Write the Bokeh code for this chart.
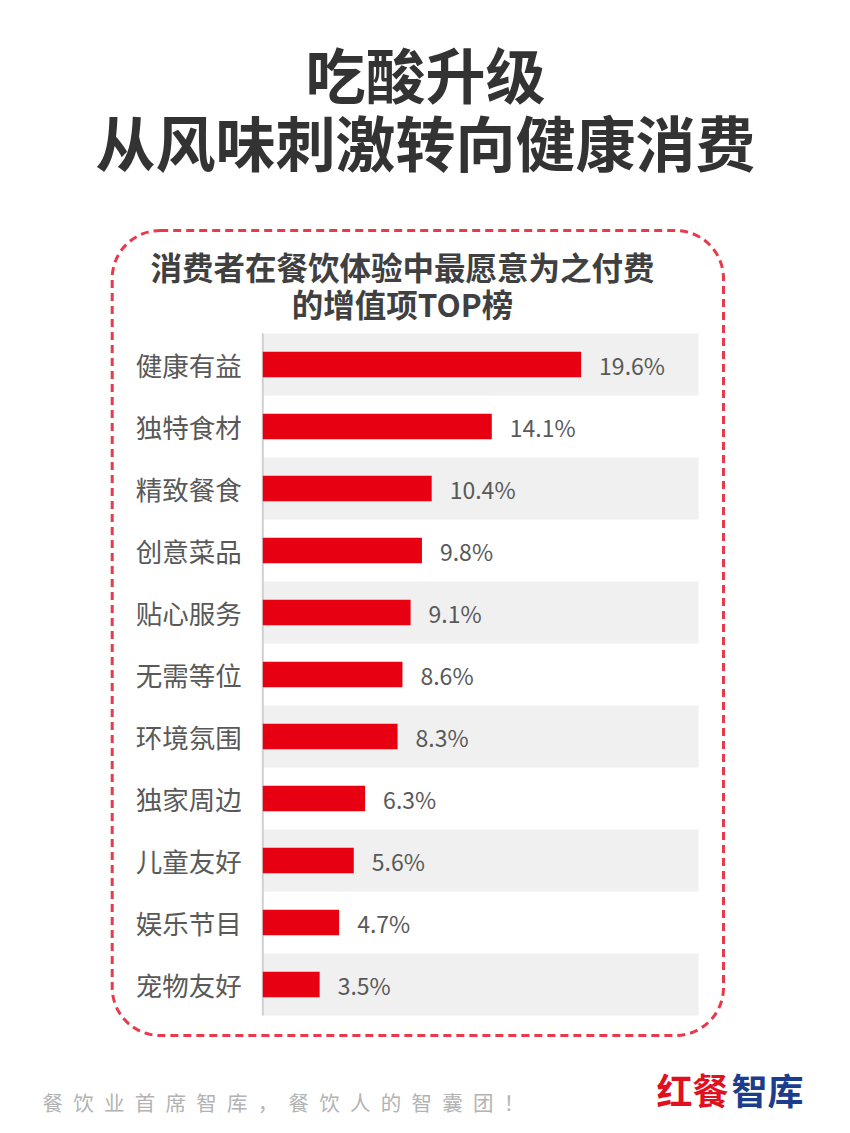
from bokeh.plotting import figure
from bokeh.models import Range1d
from bokeh.core.properties import value
from bokeh.embed import file_html
from bokeh.resources import INLINE

# ---------------- data ----------------
categories = ["健康有益", "独特食材", "精致餐食", "创意菜品", "贴心服务", "无需等位",
              "环境氛围", "独家周边", "儿童友好", "娱乐节目", "宠物友好"]
shares = [19.6, 14.1, 10.4, 9.8, 9.1, 8.6, 8.3, 6.3, 5.6, 4.7, 3.5]
value_labels = [f"{v:.1f}%" for v in shares]
title_lines = ["吃酸升级", "从风味刺激转向健康消费"]
subtitle_lines = ["消费者在餐饮体验中最愿意为之付费", "的增值项TOP榜"]
footer_text = "餐饮业首席智库，餐饮人的智囊团！"
logo_red = "红餐"
logo_blue = "智库"

# ---------------- layout (page pixels) ----------------
W, H = 834, 1117
M = 0                 # canvas origin in screenshot coordinates
ZERO_X = 262.3        # x of the 0 % line
PX_PER_PCT = 16.24    # pixels per percentage point
ROW0_Y = 364          # y of first row centre
ROW_PITCH = 62        # pixels per row
BAND_RIGHT = (698 - ZERO_X) / PX_PER_PCT

rows = list(range(len(categories)))
band_rows = [r for r in rows if r % 2 == 0]

CJK = value("Noto Sans CJK SC")

p = figure(width=W, height=H, output_backend="svg", toolbar_location=None,
           x_range=Range1d((M - ZERO_X) / PX_PER_PCT, (M + W - ZERO_X) / PX_PER_PCT),
           y_range=Range1d((M + H - ROW0_Y) / ROW_PITCH, (M - ROW0_Y) / ROW_PITCH),
           x_axis_location=None, y_axis_location=None, min_border=0,
           outline_line_color=None, background_fill_color="white",
           border_fill_color="white")
p.grid.visible = False
p.extra_x_ranges = {"px": Range1d(M, M + W)}
p.extra_y_ranges = {"py": Range1d(M + H, M)}

# alternating background bands
p.hbar(y=band_rows, left=0, right=BAND_RIGHT, height=1.0,
       fill_color="#f0f0f0", line_color=None)
# axis line
p.segment(x0=0, x1=0, y0=-0.5, y1=len(categories) - 0.5,
          line_color="#d0d0d0", line_width=2)
# bars
p.hbar(y=rows, left=0, right=shares, height=0.415,
       fill_color="#e60012", line_color=None)
# value labels
p.text(x=shares, y=rows, text=value_labels, x_offset=18,
       text_align="left", text_baseline="middle", text_font=CJK,
       text_font_size="23px", text_color="#595959")
# category labels
p.text(x=[0] * len(rows), y=rows, text=categories, x_offset=-21,
       text_align="right", text_baseline="middle", text_font=CJK,
       text_font_size="26.5px", text_color="#595959")

# dashed rounded frame
p.quad(left=111.7, right=723, top=230, bottom=1035, x_range_name="px",
       y_range_name="py", fill_color=None, line_color="#e8394d",
       line_width=3, line_dash="8 5", border_radius=48)

# main title
p.text(x=[425, 425], y=[72, 140], text=title_lines, x_range_name="px",
       y_range_name="py", text_align="center", text_baseline="middle",
       text_font=CJK, text_font_style="bold", text_font_size="60px",
       text_color="#333333")
# chart subtitle
p.text(x=[402, 402], y=[265, 302], text=subtitle_lines, x_range_name="px",
       y_range_name="py", text_align="center", text_baseline="middle",
       text_font=CJK, text_font_style="bold", text_font_size="31.5px",
       text_color="#404040")
# footer slogan
p.text(x=[42], y=[1101], text=["\u2002".join(footer_text)], x_range_name="px",
       y_range_name="py", text_align="left", text_baseline="middle",
       text_font=CJK, text_font_size="20.5px", text_color="#b3b3b3")
# logo
p.text(x=[656], y=[1088], text=[logo_red], x_range_name="px", y_range_name="py",
       text_align="left", text_baseline="middle", text_font=CJK,
       text_font_style="bold", text_font_size="36px", text_color="#e0101e")
p.text(x=[731], y=[1088], text=[logo_blue], x_range_name="px", y_range_name="py",
       text_align="left", text_baseline="middle", text_font=CJK,
       text_font_style="bold", text_font_size="36px", text_color="#1c3d8c")

open("out.html", "w").write(file_html(p, INLINE))
